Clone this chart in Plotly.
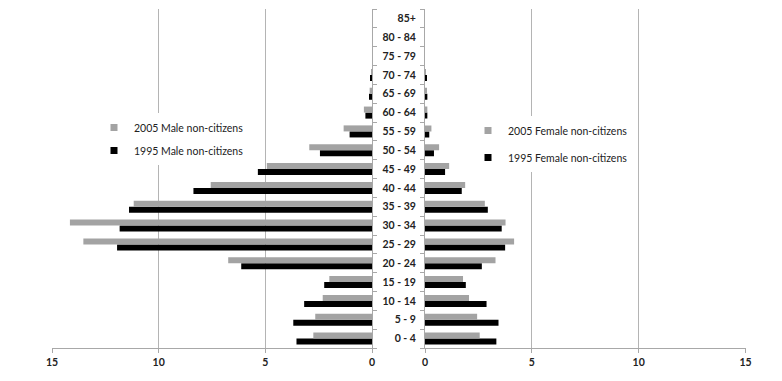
import plotly.graph_objects as go

ages = ["0 - 4", "5 - 9", "10 - 14", "15 - 19", "20 - 24", "25 - 29", "30 - 34", "35 - 39",
        "40 - 44", "45 - 49", "50 - 54", "55 - 59", "60 - 64", "65 - 69", "70 - 74",
        "75 - 79", "80 - 84", "85+"]

male_2005 = [2.75, 2.66, 2.31, 2.00, 6.74, 13.53, 14.16, 11.17, 7.56, 4.93, 2.94, 1.33, 0.38, 0.11, 0.03, 0, 0, 0]
male_1995 = [3.54, 3.69, 3.18, 2.24, 6.13, 11.95, 11.83, 11.39, 8.37, 5.35, 2.44, 1.05, 0.31, 0.14, 0.05, 0, 0, 0]
female_2005 = [2.56, 2.44, 2.06, 1.78, 3.30, 4.17, 3.77, 2.80, 1.88, 1.13, 0.66, 0.30, 0.11, 0.05, 0.02, 0, 0, 0]
female_1995 = [3.34, 3.44, 2.88, 1.91, 2.66, 3.75, 3.59, 2.94, 1.72, 0.94, 0.42, 0.20, 0.11, 0.11, 0.05, 0, 0, 0]

tick_vals = [0, 5, 10, 15]
GRAY = "#a3a3a3"
BLACK = "#000000"
FONT = "Lato"

# page body has an 8px margin: size the figure to fit, position in screen coords minus 8
OFF = 8
W, H = 782 - OFF, 381 - OFF


def px(x):
    return (x - OFF) / W


def py(y):
    return 1 - (y - OFF) / H


fig = go.Figure()

# Male (left panel) - 1995 first so 2005 sits above within each group
fig.add_trace(go.Bar(y=ages, x=male_1995, orientation="h", name="1995 Male non-citizens",
                     marker=dict(color=BLACK, line=dict(width=0)), xaxis="x", yaxis="y",
                     showlegend=False))
fig.add_trace(go.Bar(y=ages, x=male_2005, orientation="h", name="2005 Male non-citizens",
                     marker=dict(color=GRAY, line=dict(width=0)), xaxis="x", yaxis="y",
                     showlegend=False))
# Female (right panel)
fig.add_trace(go.Bar(y=ages, x=female_1995, orientation="h", name="1995 Female non-citizens",
                     marker=dict(color=BLACK, line=dict(width=0)), xaxis="x2", yaxis="y2",
                     showlegend=False))
fig.add_trace(go.Bar(y=ages, x=female_2005, orientation="h", name="2005 Female non-citizens",
                     marker=dict(color=GRAY, line=dict(width=0)), xaxis="x2", yaxis="y2",
                     showlegend=False))

# legend entries (small square keys like the original)
for name, color, leg, xa, ya, grp in [
    ("2005 Male non-citizens", GRAY, "legend", "x", "y", "a"),
    ("1995 Male non-citizens", BLACK, "legend", "x", "y", "b"),
    ("2005 Female non-citizens", GRAY, "legend2", "x2", "y2", "a"),
    ("1995 Female non-citizens", BLACK, "legend2", "x2", "y2", "b"),
]:
    fig.add_trace(go.Scatter(x=[None], y=[None], mode="markers", name=name,
                             marker=dict(symbol="square", size=7, color=color),
                             xaxis=xa, yaxis=ya, legend=leg, legendgroup=grp, showlegend=True,
                             hoverinfo="skip"))

xcommon = dict(range=[0, 15], tickvals=tick_vals, showgrid=True, gridcolor="#b4b4b4", gridwidth=1,
               zeroline=False, showline=True, linecolor="#a8a8a8", linewidth=1,
               ticks="outside", ticklen=4, tickcolor="#a8a8a8",
               tickfont=dict(family=FONT, size=10.5, color="#222222", weight="bold"))

y_dom = [py(348), py(9)]

fig.update_layout(
    width=W, height=H,
    margin=dict(l=0, r=0, t=0, b=0, autoexpand=False),
    paper_bgcolor="white", plot_bgcolor="white",
    barmode="group", bargap=0.36, bargroupgap=0.0,
    xaxis=dict(domain=[px(52), px(372)], anchor="y", **{**xcommon, "range": [15, 0]}),
    yaxis=dict(domain=y_dom, anchor="x", side="right", type="category", range=[-0.5, 17.5],
               showticklabels=False, showline=True, linecolor="#a8a8a8", ticks="outside",
               ticklen=4, tickcolor="#a8a8a8", tickson="boundaries", showgrid=False),
    xaxis2=dict(domain=[px(425), px(745.5)], anchor="y2", **xcommon),
    yaxis2=dict(domain=y_dom, anchor="x2", side="left", type="category", range=[-0.5, 17.5],
                showticklabels=True, showline=True, linecolor="#a8a8a8", ticks="outside",
                ticklen=4, tickcolor="#a8a8a8", tickson="boundaries", showgrid=False,
                ticklabelstandoff=6,
                tickfont=dict(family=FONT, size=10.5, color="#222222", weight="bold")),
    legend=dict(x=px(94), y=py(113), xanchor="left", yanchor="top",
                bgcolor="white", borderwidth=0, tracegroupgap=4, itemwidth=30,
                font=dict(family=FONT, size=10.5, color="#222222"), traceorder="grouped"),
    legend2=dict(x=px(468), y=py(116), xanchor="left", yanchor="top",
                 bgcolor="white", borderwidth=0, tracegroupgap=8, itemwidth=30,
                 font=dict(family=FONT, size=10.5, color="#222222"), traceorder="grouped"),
    showlegend=True,
)

fig.write_html("out.html")
